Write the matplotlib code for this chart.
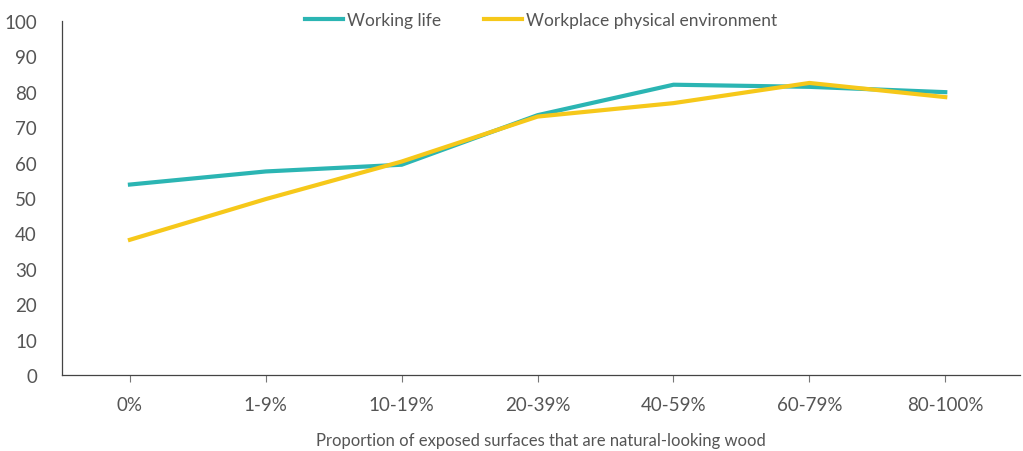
import matplotlib
matplotlib.use('Agg')
import matplotlib.pyplot as plt
import numpy as np

categories = ['0%', '1-9%', '10-19%', '20-39%', '40-59%', '60-79%', '80-100%']
working_life = [53.8, 57.5, 59.4, 73.4, 82.0, 81.4, 79.9]
physical_env = [38.2, 49.7, 60.3, 73.0, 76.8, 82.5, 78.5]

plt.rcParams['font.family'] = ['Lato', 'DejaVu Sans']
txt = '#555555'

fig = plt.figure(figsize=(10.23, 4.52), dpi=100)
ax = fig.add_axes([62/1023, 1-376/452, (1020-62)/1023, (376-22)/452])

x = np.arange(len(categories))
ax.plot(x, working_life, color='#2bb5b3', lw=3, label='Working life')
ax.plot(x, physical_env, color='#f6c81a', lw=3, label='Workplace physical environment')

ax.set_xlim(-0.5, 6.55)
ax.set_ylim(0, 100)
ax.set_yticks(range(0, 101, 10))
ax.set_xticks(x)
ax.set_xticklabels(categories)
ax.tick_params(axis='y', length=0, pad=18, labelsize=13.5, labelcolor=txt)
ax.tick_params(axis='x', length=5, width=0.8, color='#777777', pad=10, labelsize=13.5, labelcolor=txt)
for s in ['top', 'right']:
    ax.spines[s].set_visible(False)
for s in ['left', 'bottom']:
    ax.spines[s].set_color('#444444')
    ax.spines[s].set_linewidth(0.9)

ax.set_xlabel('Proportion of exposed surfaces that are natural-looking wood',
              fontsize=12, color=txt, labelpad=14)

leg = ax.legend(loc='upper center', bbox_to_anchor=(0.5, 1.07), ncol=2, frameon=False,
                fontsize=12.5, handlelength=2.2, handletextpad=0.2, columnspacing=2.5)
for t in leg.get_texts():
    t.set_color(txt)

fig.savefig('out.png', dpi=100)
